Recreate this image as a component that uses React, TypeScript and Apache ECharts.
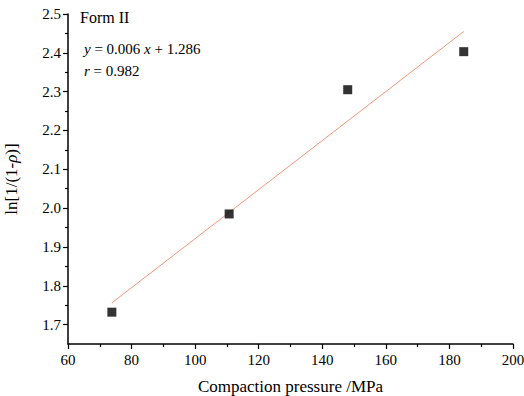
import React, { useEffect, useRef } from "react";
import * as echarts from "echarts";

const pressure = [73.8, 110.7, 148, 184.5];
const lnValues = [1.732, 1.985, 2.305, 2.403];
const fitX = [73.8, 184.5];
const fitY = [1.756, 2.455];
const yMajorTicks = [1.7, 1.8, 1.9, 2.0, 2.1, 2.2, 2.3, 2.4, 2.5];
const yMinorTicks = [1.75, 1.85, 1.95, 2.05, 2.15, 2.25, 2.35, 2.45];
const xTicks = [60, 80, 100, 120, 140, 160, 180, 200];
const title = "Form II";
const equation = "0.006";
const intercept = "1.286";
const rValue = "0.982";

const FONT = "Liberation Serif";

export default function App() {
  const ref = useRef<HTMLDivElement>(null);
  useEffect(() => {
    if (!ref.current) return;
    const chart = echarts.init(ref.current, null, { renderer: "svg" });
    const axisLineStyle = { color: "#000", width: 1.5 };
    chart.setOption({
      animation: false,
      backgroundColor: "#fff",
      grid: { left: 68, right: 11, top: 14, bottom: 52, containLabel: false, outerBoundsMode: "none" },
      xAxis: {
        type: "value",
        min: xTicks[0],
        max: xTicks[xTicks.length - 1],
        interval: 20,
        axisLine: { show: true, onZero: false, lineStyle: axisLineStyle },
        axisTick: { show: true, inside: false, length: 5, lineStyle: { color: "#000", width: 1.2 } },
        minorTick: { show: true, splitNumber: 2, length: 3, lineStyle: { color: "#000", width: 1.2 } },
        splitLine: { show: false },
        axisLabel: { color: "#000", fontFamily: FONT, fontSize: 15, margin: 8 },
        name: "Compaction pressure /MPa",
        nameLocation: "middle",
        nameGap: 34,
        nameTextStyle: { color: "#000", fontFamily: FONT, fontSize: 17 },
      },
      yAxis: [
        {
          type: "value",
          min: 1.65,
          max: 2.5,
          axisLine: { show: true, onZero: false, lineStyle: axisLineStyle },
          axisTick: { show: true, inside: false, length: 5, customValues: yMajorTicks, lineStyle: { color: "#000", width: 1.2 } },
          splitLine: { show: false },
          axisLabel: {
            color: "#000",
            fontFamily: FONT,
            fontSize: 15,
            margin: 7,
            customValues: yMajorTicks,
            formatter: (v: number) => v.toFixed(1),
          },
          name: "ln[1/(1-{i|ρ})]",
          nameLocation: "middle",
          nameGap: 48,
          nameRotate: 90,
          nameTextStyle: {
            color: "#000",
            fontFamily: FONT,
            fontSize: 17,
            rich: { i: { fontStyle: "italic", fontFamily: FONT, fontSize: 17, color: "#000" } },
          },
        },
        {
          type: "value",
          min: 1.65,
          max: 2.5,
          position: "left",
          axisLine: { show: false },
          axisTick: { show: true, inside: false, length: 3, customValues: yMinorTicks, lineStyle: { color: "#000", width: 1.2 } },
          splitLine: { show: false },
          axisLabel: { show: false },
        },
      ],
      graphic: [
        {
          type: "text",
          left: 80,
          top: 9,
          style: { text: title, fontFamily: FONT, fontSize: 16, fill: "#000" },
        },
        {
          type: "text",
          left: 84,
          top: 41,
          style: {
            text: "{i|y} = " + equation + " {i|x} + " + intercept,
            fontFamily: FONT,
            fontSize: 15,
            fill: "#000",
            rich: { i: { fontStyle: "italic", fontFamily: FONT, fontSize: 15, fill: "#000" } },
          },
        },
        {
          type: "text",
          left: 84,
          top: 63,
          style: {
            text: "{i|r} = " + rValue,
            fontFamily: FONT,
            fontSize: 15,
            fill: "#000",
            rich: { i: { fontStyle: "italic", fontFamily: FONT, fontSize: 15, fill: "#000" } },
          },
        },
      ],
      series: [
        {
          type: "line",
          data: fitX.map((x, i) => [x, fitY[i]]),
          showSymbol: false,
          symbol: "none",
          lineStyle: { color: "#f5967a", width: 1 },
          silent: true,
          z: 1,
        },
        {
          type: "scatter",
          data: pressure.map((x, i) => [x, lnValues[i]]),
          symbol: "rect",
          symbolSize: 9,
          itemStyle: { color: "#000" },
          z: 2,
        },
      ],
    });
    return () => chart.dispose();
  }, []);
  return (
    <div
      ref={ref}
      style={{ position: "fixed", left: 0, top: 0, width: 524, height: 396, background: "#fff" }}
    />
  );
}
